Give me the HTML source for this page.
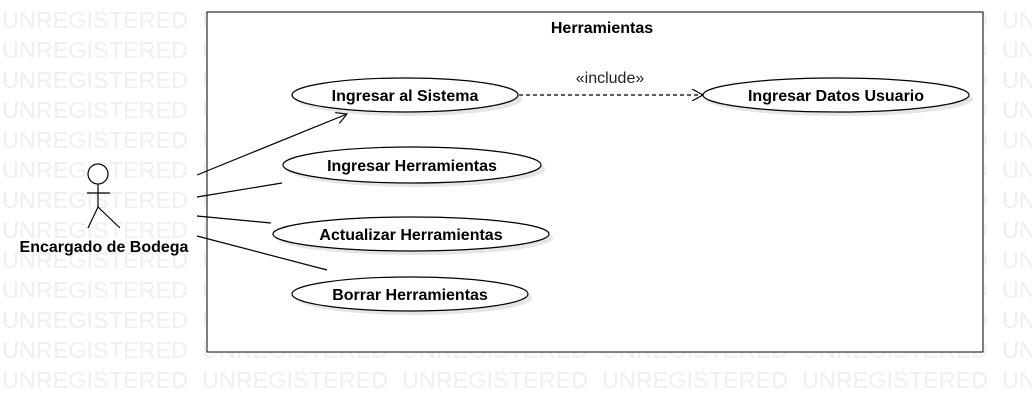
<!DOCTYPE html>
<html><head><meta charset="utf-8"><style>
html,body{margin:0;padding:0;background:#fff;}
svg{display:block;font-family:"Liberation Sans",sans-serif;}
</style></head><body>
<svg width="1032" height="402" viewBox="0 0 1032 402">
<defs>
<marker id="open" viewBox="0 0 12 12" refX="11" refY="6" markerWidth="12" markerHeight="12" orient="auto" markerUnits="userSpaceOnUse">
<path d="M0,0 L11,6 L0,12" fill="none" stroke="#000" stroke-width="1.2"/></marker>
</defs>
<g id="wm" fill="#efefef" font-size="23"></g>
<rect x="207" y="12" width="776" height="340" fill="#fff" stroke="#000" stroke-width="1"/>
<text x="602" y="33" text-anchor="middle" font-weight="bold" font-size="16">Herramientas</text>
<g stroke="#000" stroke-width="1.2" fill="#fff">
<circle cx="98" cy="174" r="10"/>
<line x1="98" y1="184" x2="98" y2="207"/>
<line x1="87" y1="193" x2="110" y2="193"/>
<line x1="98" y1="207" x2="88" y2="228"/>
<line x1="98" y1="207" x2="120" y2="228"/>
</g>
<text x="104" y="252" text-anchor="middle" font-weight="bold" font-size="16">Encargado de Bodega</text>
<g stroke="#000" stroke-width="1.2" fill="none">
<line x1="197" y1="175" x2="347" y2="114" marker-end="url(#open)"/>
<line x1="197" y1="197" x2="282" y2="183"/>
<line x1="197" y1="216" x2="271" y2="223"/>
<line x1="197" y1="236" x2="327" y2="270"/>
<line x1="519" y1="95" x2="703" y2="95" stroke-dasharray="4,3" marker-end="url(#open)"/>
</g>
<text x="610" y="83" text-anchor="middle" font-size="16" fill="#222">«include»</text>
<g font-weight="bold" font-size="16" text-anchor="middle">
<g>
<ellipse cx="409" cy="99" rx="113" ry="17" fill="#e6e6e6"/>
<ellipse cx="405" cy="95" rx="113" ry="17" fill="#fff" stroke="#000" stroke-width="1.2"/>
<text x="405" y="101">Ingresar al Sistema</text></g>
<g>
<ellipse cx="840" cy="99" rx="133" ry="17" fill="#e6e6e6"/>
<ellipse cx="836" cy="95" rx="133" ry="17" fill="#fff" stroke="#000" stroke-width="1.2"/>
<text x="836" y="101">Ingresar Datos Usuario</text></g>
<g>
<ellipse cx="416" cy="169" rx="129" ry="18" fill="#e6e6e6"/>
<ellipse cx="412" cy="165" rx="129" ry="18" fill="#fff" stroke="#000" stroke-width="1.2"/>
<text x="412" y="171">Ingresar Herramientas</text></g>
<g>
<ellipse cx="415" cy="238" rx="138" ry="17" fill="#e6e6e6"/>
<ellipse cx="411" cy="234" rx="138" ry="17" fill="#fff" stroke="#000" stroke-width="1.2"/>
<text x="411" y="240">Actualizar Herramientas</text></g>
<g>
<ellipse cx="414" cy="298" rx="118" ry="17" fill="#e6e6e6"/>
<ellipse cx="410" cy="294" rx="118" ry="17" fill="#fff" stroke="#000" stroke-width="1.2"/>
<text x="410" y="300">Borrar Herramientas</text></g>
</g>
</svg>
<script>
const wm=document.getElementById('wm');
const NS='http://www.w3.org/2000/svg';
for(let r=0;r<13;r++){
  const y=28+r*30;
  for(let c=0;c<6;c++){
    const t=document.createElementNS(NS,'text');
    
    
    t.setAttribute('x',2+c*200);
    t.setAttribute('y',y);
    t.setAttribute('textLength','186');
    t.setAttribute('lengthAdjust','spacingAndGlyphs');
    t.textContent='UNREGISTERED';
    wm.appendChild(t);
  }
}
</script>
</body></html>
